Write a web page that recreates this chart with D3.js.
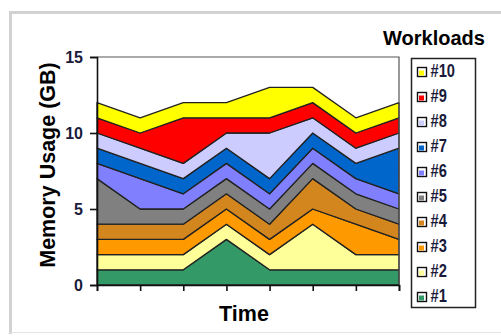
<!DOCTYPE html>
<html>
<head>
<meta charset="utf-8">
<script src="https://cdn.jsdelivr.net/npm/d3@7"></script>
<style>
  html, body { margin: 0; padding: 0; background: #fff; }
  svg { display: block; font-family: "Liberation Sans", Arial, sans-serif; }
</style>
</head>
<body>
<svg id="chart" width="501" height="336"></svg>
<script>
// Memory usage per workload at each sample time (GB)
const timePoints = [0, 1, 2, 3, 4, 5, 6, 7];
const seriesNames = ["#1", "#2", "#3", "#4", "#5", "#6", "#7", "#8", "#9", "#10"];
const w1  = [1, 1, 1, 3, 1, 1, 1, 1];
const w2  = [1, 1, 1, 1, 1, 3, 1, 1];
const w3  = [1, 1, 1, 1, 1, 1, 2, 1];
const w4  = [1, 1, 1, 1, 1, 2, 1, 1];
const w5  = [3, 1, 1, 1, 1, 1, 1, 1];
const w6  = [1, 2, 1, 1, 1, 1, 1, 1];
const w7  = [1, 1, 1, 1, 1, 1, 1, 3];
const w8  = [1, 1, 1, 1, 3, 1, 1, 1];
const w9  = [1, 1, 3, 1, 1, 1, 1, 1];
const w10 = [1, 1, 1, 1, 2, 1, 1, 1];
const yTicks = [0, 5, 10, 15];
const colors = ["#339966", "#FFFF99", "#FF9900", "#D4861E", "#808080",
                "#8080FF", "#0066CC", "#CCCCFF", "#FF0000", "#FFFF00"];

const seriesValues = [w1, w2, w3, w4, w5, w6, w7, w8, w9, w10];
const rows = timePoints.map((t, i) => {
  const r = { t };
  seriesNames.forEach((n, k) => { r[n] = seriesValues[k][i]; });
  return r;
});

const svg = d3.select("#chart");

// outer chart frame
svg.append("path")
  .attr("d", "M10.5,334 L10.5,12.5 L501,12.5")
  .attr("fill", "none").attr("stroke", "#d2d2d2").attr("stroke-width", 3);
svg.append("line")
  .attr("x1", 10).attr("x2", 501).attr("y1", 332.5).attr("y2", 332.5)
  .attr("stroke", "#e4e4e4").attr("stroke-width", 1);

const x = d3.scalePoint().domain(timePoints).range([97, 399]);
const y = d3.scaleLinear().domain([0, 15]).range([285, 57]);

const stacked = d3.stack().keys(seriesNames)(rows);

const area = d3.area()
  .x(d => x(d.data.t))
  .y0(d => y(d[0]))
  .y1(d => y(d[1]));

svg.append("g").selectAll("path")
  .data(stacked)
  .join("path")
  .attr("d", area)
  .attr("fill", (d, i) => colors[i])
  .attr("stroke", "#222")
  .attr("stroke-width", 1.3)
  .attr("stroke-linejoin", "round");

// plot area border (top and right)
svg.append("path")
  .attr("d", `M${x(0)},${y(15)} L${x(7)},${y(15)} L${x(7)},${y(0)}`)
  .attr("fill", "none").attr("stroke", "#555").attr("stroke-width", 1.2);

// y axis
const yAxis = svg.append("g")
  .attr("transform", `translate(${x(0)},0)`)
  .call(d3.axisLeft(y).tickValues(yTicks).tickSize(7).tickPadding(7));
yAxis.select(".domain").attr("stroke", "#111").attr("stroke-width", 1.6);
yAxis.selectAll(".tick line").attr("stroke", "#111").attr("stroke-width", 1.6);
yAxis.selectAll(".tick text")
  .attr("font-size", 16).attr("font-weight", "bold").attr("fill", "#1a1a3a")
  .attr("font-family", "'Liberation Sans', Arial, sans-serif");

// x axis (ticks only)
const xAxis = svg.append("g")
  .attr("transform", `translate(0,${y(0)})`)
  .call(d3.axisBottom(x).tickSize(6).tickFormat(""));
xAxis.select(".domain").attr("stroke", "#111").attr("stroke-width", 1.6);
xAxis.selectAll(".tick line").attr("stroke", "#111").attr("stroke-width", 1.6);

// axis titles
svg.append("text")
  .attr("x", 244).attr("y", 321)
  .attr("text-anchor", "middle")
  .attr("font-size", 21.5).attr("font-weight", "bold")
  .text("Time");

svg.append("text")
  .attr("transform", "translate(55,165) rotate(-90)")
  .attr("text-anchor", "middle")
  .attr("font-size", 21.5).attr("font-weight", "bold")
  .text("Memory Usage (GB)");

// legend
svg.append("text")
  .attr("x", 434).attr("y", 45)
  .attr("text-anchor", "middle")
  .attr("font-size", 20).attr("font-weight", "bold")
  .text("Workloads");

svg.append("rect")
  .attr("x", 411.5).attr("y", 58.5).attr("width", 64).attr("height", 249)
  .attr("fill", "#fff").attr("stroke", "#222").attr("stroke-width", 1.5);

const legendOrder = seriesNames.map((n, i) => ({ n, c: colors[i] })).reverse();
const item = svg.append("g").selectAll("g")
  .data(legendOrder)
  .join("g")
  .attr("transform", (d, i) => `translate(417,${72 + i * 25})`);

item.append("rect")
  .attr("x", 0.5).attr("y", -4.5).attr("width", 9).attr("height", 9)
  .attr("fill", "#fff").attr("stroke", "#111").attr("stroke-width", 1.4);
item.append("rect")
  .attr("x", 2).attr("y", -1.5).attr("width", 5).attr("height", 5)
  .attr("fill", d => d.c);
item.append("text")
  .attr("transform", "translate(13.5,5) scale(0.84,1)")
  .attr("font-size", 17.5).attr("font-weight", "bold").attr("fill", "#1a1a3a")
  .text(d => d.n);
</script>
</body>
</html>
